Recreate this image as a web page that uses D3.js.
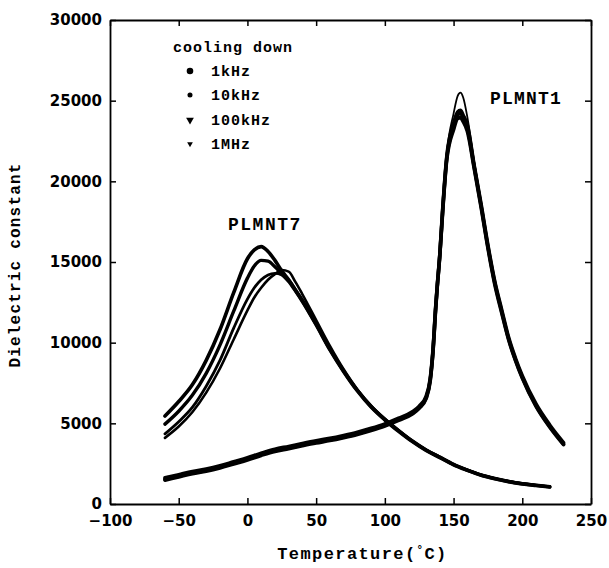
<!DOCTYPE html>
<html>
<head>
<meta charset="utf-8">
<script src="https://cdn.jsdelivr.net/npm/d3@7"></script>
<style>
  html, body { margin: 0; padding: 0; background: #fff; }
  svg { display: block; }
</style>
</head>
<body>
<svg id="chart" width="609" height="568"></svg>
<script>
// ---------- data ----------
const xTicks = [-100, -50, 0, 50, 100, 150, 200, 250];
const yTicks = [0, 5000, 10000, 15000, 20000, 25000, 30000];
const freqLabels = ["1kHz", "10kHz", "100kHz", "1MHz"];
const sampleLabels = ["PLMNT7", "PLMNT1"];
const legendTitle = "cooling down";

// PLMNT7 (relaxor) temperatures, °C
const tempP7 = [-60,-50,-40,-30,-20,-10,0,5,10,15,20,25,30,35,40,50,60,70,80,90,100,110,120,130,140,150,160,170,180,190,200,210,220];
const p7_1kHz   = [5450,6350,7400,8900,10800,13100,15200,15750,15950,15650,15100,14450,13900,13250,12600,11150,9600,8250,7050,6050,5250,4550,3900,3350,2900,2450,2100,1800,1580,1400,1260,1160,1070];
const p7_10kHz  = [4950,5750,6750,8100,9850,11950,14000,14750,15100,15050,14700,14250,13800,13200,12550,11100,9550,8200,7000,6000,5200,4500,3860,3310,2870,2420,2080,1780,1560,1380,1240,1140,1050];
const p7_100kHz = [4350,5100,6000,7300,8900,10900,12700,13400,13900,14200,14300,14200,13900,13300,12650,11200,9650,8250,7050,6050,5250,4550,3900,3350,2900,2450,2100,1800,1580,1400,1260,1160,1070];
const p7_1MHz   = [4100,4800,5700,6900,8400,10200,12000,12800,13400,13900,14250,14500,14400,13750,13000,11400,9800,8350,7100,6100,5280,4570,3920,3370,2920,2470,2120,1820,1600,1420,1280,1180,1090];

// PLMNT1 temperatures, °C
const tempP1 = [-60,-50,-40,-30,-20,-10,0,10,20,30,40,50,60,70,80,90,100,110,120,125,130,133,135,137,138,140,142,145,150,153,155,157,160,165,170,175,180,185,190,195,200,210,220,230];
const p1_1kHz   = [1620,1820,2020,2170,2370,2620,2870,3150,3400,3570,3750,3920,4070,4250,4450,4690,4970,5320,5720,6070,6680,7780,9550,12250,13400,15500,18200,21500,23600,24300,24400,24100,23500,21000,18600,16050,13800,12050,10350,9050,7950,6200,4900,3810];
const p1_10kHz  = [1530,1730,1930,2080,2280,2530,2780,3060,3310,3480,3660,3830,3980,4160,4360,4600,4880,5230,5630,5980,6580,7680,9450,12200,13350,15450,18100,21400,23400,24100,24200,23950,23300,20900,18500,15950,13700,11950,10250,8950,7850,6100,4800,3720];
const p1_100kHz = [1480,1680,1880,2030,2230,2480,2730,3010,3260,3430,3610,3780,3930,4110,4310,4550,4830,5180,5580,5930,6530,7620,9400,12100,13300,15400,18000,21300,23200,23900,23950,23700,23100,20800,18400,15850,13600,11850,10200,8900,7800,6050,4760,3680];
const p1_1MHz   = [1550,1750,1950,2100,2300,2550,2800,3080,3330,3500,3680,3850,4000,4180,4380,4620,4900,5250,5650,6000,6600,7700,9500,12300,13500,15600,18300,21700,24200,25300,25500,25200,24000,21200,18700,16100,13800,12000,10300,9000,7900,6150,4850,3760];

// ---------- setup ----------
const svg = d3.select("#chart");
const M = { left: 110, right: 591, top: 20, bottom: 504 };
const x = d3.scaleLinear().domain([-100, 250]).range([M.left, M.right]);
const y = d3.scaleLinear().domain([0, 30000]).range([M.bottom, M.top]);

const monoFont = "'Liberation Mono', 'DejaVu Sans Mono', monospace";
const numFont = "'DejaVu Sans', sans-serif";

// ---------- axes ----------
const tickLen = 6;
const gB = svg.append("g").attr("transform", `translate(0,${M.bottom})`)
  .call(d3.axisBottom(x).tickValues(xTicks).tickSizeInner(-tickLen).tickSizeOuter(0).tickPadding(11));
const gT = svg.append("g").attr("transform", `translate(0,${M.top})`)
  .call(d3.axisTop(x).tickValues(xTicks).tickSizeInner(-tickLen).tickSizeOuter(0).tickFormat(""));
const gL = svg.append("g").attr("transform", `translate(${M.left},0)`)
  .call(d3.axisLeft(y).tickValues(yTicks).tickSizeInner(-tickLen).tickSizeOuter(0).tickPadding(8).tickFormat(d3.format("d")));
const gR = svg.append("g").attr("transform", `translate(${M.right},0)`)
  .call(d3.axisRight(y).tickValues(yTicks).tickSizeInner(-tickLen).tickSizeOuter(0).tickFormat(""));

[gB, gT, gL, gR].forEach(g => {
  g.select(".domain").attr("stroke", "#000").attr("stroke-width", 1.8);
  g.selectAll(".tick line").attr("stroke", "#000").attr("stroke-width", 1.5);
  g.selectAll(".tick text")
    .attr("fill", "#000")
    .style("font-family", numFont)
    .style("font-weight", "bold")
    .style("font-size", "15px");
});

// ---------- curves ----------
const line = d3.line()
  .x(d => x(d[0]))
  .y(d => y(d[1]))
  .curve(d3.curveMonotoneX);

const series = [
  { t: tempP7, v: p7_1kHz,   w: 3.6 },
  { t: tempP7, v: p7_10kHz,  w: 3.4 },
  { t: tempP7, v: p7_100kHz, w: 2.8 },
  { t: tempP7, v: p7_1MHz,   w: 2.6 },
  { t: tempP1, v: p1_1kHz,   w: 3.6 },
  { t: tempP1, v: p1_10kHz,  w: 3.6 },
  { t: tempP1, v: p1_100kHz, w: 3.6 },
  { t: tempP1, v: p1_1MHz,   w: 1.8 }
];

svg.append("g").selectAll("path")
  .data(series)
  .join("path")
  .attr("d", s => line(s.t.map((t, i) => [t, s.v[i]])))
  .attr("fill", "none")
  .attr("stroke", "#000")
  .attr("stroke-width", s => s.w)
  .attr("stroke-linecap", "round")
  .attr("stroke-linejoin", "round");

// ---------- legend ----------
const leg = svg.append("g");
leg.append("text")
  .attr("x", 173).attr("y", 52)
  .style("font-family", monoFont).style("font-weight", "bold")
  .style("font-size", "15px").style("letter-spacing", "1px")
  .text(legendTitle);

const markers = [
  d3.symbol().type(d3.symbolCircle).size(34),
  d3.symbol().type(d3.symbolCircle).size(20),
  d3.symbol().type(d3.symbolTriangle).size(26),
  d3.symbol().type(d3.symbolTriangle).size(14)
];
const legY = [71, 95, 120, 144];
freqLabels.forEach((lab, i) => {
  leg.append("path")
    .attr("d", markers[i]())
    .attr("transform", `translate(190,${legY[i]})` + (i >= 2 ? " rotate(180)" : ""))
    .attr("fill", "#000");
  leg.append("text")
    .attr("x", 211).attr("y", legY[i] + 5)
    .style("font-family", monoFont).style("font-weight", "bold")
    .style("font-size", "15px").style("letter-spacing", "1px")
    .text(lab);
});

// ---------- sample labels ----------
svg.append("text")
  .attr("x", 228).attr("y", 230)
  .style("font-family", monoFont).style("font-weight", "bold")
  .style("font-size", "18px").style("letter-spacing", "1.5px")
  .text(sampleLabels[0]);
svg.append("text")
  .attr("x", 490).attr("y", 104)
  .style("font-family", monoFont).style("font-weight", "bold")
  .style("font-size", "18px").style("letter-spacing", "1.2px")
  .text(sampleLabels[1]);

// ---------- axis titles ----------
const xt = svg.append("text")
  .attr("x", (M.left + M.right) / 2 + 12).attr("y", 559)
  .attr("text-anchor", "middle")
  .style("font-family", monoFont).style("font-weight", "bold")
  .style("font-size", "17px").style("letter-spacing", "1.4px");
xt.append("tspan").text("Temperature(");
xt.append("tspan").attr("dy", -6).style("font-size", "11px").text("°");
xt.append("tspan").attr("dy", 6).text("C)");

svg.append("text")
  .attr("transform", "translate(20,265) rotate(-90)")
  .attr("text-anchor", "middle")
  .style("font-family", monoFont).style("font-weight", "bold")
  .style("font-size", "16px").style("letter-spacing", "1.2px")
  .text("Dielectric constant");
</script>
</body>
</html>
